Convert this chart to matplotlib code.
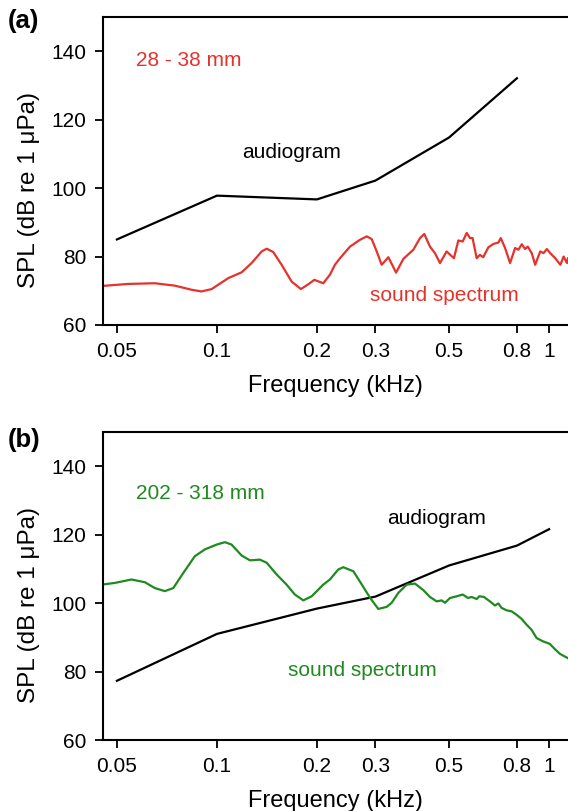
import numpy as np
import matplotlib
matplotlib.use("Agg")
import matplotlib.pyplot as plt

plt.rcParams["font.family"] = ["Liberation Sans", "DejaVu Sans"]

# Audiogram thresholds (kHz, dB re 1 uPa)
aud_a_freq = [0.05, 0.1, 0.2, 0.3, 0.5, 0.8]
aud_a_spl = [85.0, 97.8, 96.7, 102.2, 114.8, 132.1]

aud_b_freq = [0.05, 0.1, 0.2, 0.3, 0.5, 0.8, 1.0]
aud_b_spl = [77.3, 91.0, 98.4, 101.9, 111.0, 116.8, 121.6]

# Sound spectrum, 28 - 38 mm fish
spec_a_freq = [0.0450, 0.0540, 0.0650, 0.0747, 0.0839, 0.0899, 0.0964, 0.1082, 0.1187, 0.1272,
               0.1364, 0.1412, 0.1478, 0.1566, 0.1678, 0.1790, 0.1884, 0.1965, 0.2090, 0.2189,
               0.2266, 0.2347, 0.2515, 0.2696, 0.2826, 0.2924, 0.3027, 0.3133, 0.3282, 0.3462,
               0.3640, 0.3902, 0.4087, 0.4210, 0.4379, 0.4533, 0.4694, 0.4914, 0.5170, 0.5330,
               0.5494, 0.5649, 0.5780, 0.5884, 0.6053, 0.6190, 0.6333, 0.6564, 0.6799, 0.7037,
               0.7153, 0.7370, 0.7631, 0.7900, 0.8084, 0.8275, 0.8466, 0.8625, 0.8867, 0.9079,
               0.9402, 0.9622, 0.9847, 1.0077, 1.0438, 1.0810, 1.1063, 1.1320, 1.1400]
spec_a_spl = [71.4, 72.0, 72.2, 71.5, 70.3, 69.8, 70.5, 73.7, 75.4, 78.1,
              81.5, 82.3, 81.3, 77.6, 72.7, 70.5, 71.9, 73.2, 72.2, 74.7,
              77.6, 79.5, 82.9, 84.9, 85.9, 85.1, 81.5, 77.6, 79.8, 75.3,
              79.3, 82.0, 85.4, 86.6, 82.9, 81.0, 78.1, 81.5, 79.5, 84.7,
              84.4, 86.9, 85.4, 85.4, 79.5, 80.5, 79.8, 82.7, 83.7, 84.1,
              85.4, 82.5, 78.1, 82.5, 82.0, 83.6, 82.2, 82.9, 81.0, 77.6,
              81.5, 81.0, 82.2, 81.0, 79.5, 77.6, 80.0, 78.1, 79.5]

# Sound spectrum, 202 - 318 mm fish
spec_b_freq = [0.0450, 0.0493, 0.0553, 0.0607, 0.0650, 0.0697, 0.0739, 0.0792, 0.0858, 0.0920,
               0.0998, 0.1057, 0.1107, 0.1187, 0.1257, 0.1347, 0.1412, 0.1512, 0.1621, 0.1717,
               0.1820, 0.1929, 0.2090, 0.2189, 0.2318, 0.2400, 0.2575, 0.2731, 0.2893, 0.3060,
               0.3243, 0.3358, 0.3517, 0.3727, 0.3947, 0.4181, 0.4379, 0.4587, 0.4749, 0.4860,
               0.5032, 0.5272, 0.5494, 0.5701, 0.5843, 0.6053, 0.6164, 0.6363, 0.6637, 0.6871,
               0.7034, 0.7194, 0.7445, 0.7709, 0.7980, 0.8262, 0.8554, 0.8856, 0.9169, 0.9596,
               1.0046, 1.0400, 1.0770, 1.1150, 1.1400]
spec_b_spl = [105.4, 105.9, 106.9, 106.1, 104.4, 103.5, 104.4, 108.8, 113.7, 115.7,
              117.1, 117.8, 117.1, 113.9, 112.5, 112.7, 111.8, 108.4, 105.4, 102.5,
              100.8, 102.0, 105.4, 106.9, 109.8, 110.5, 109.3, 105.4, 101.5, 98.3,
              98.9, 100.1, 103.0, 105.4, 105.7, 103.8, 101.8, 100.5, 100.8, 100.1,
              101.5, 102.0, 102.5, 101.5, 101.8, 101.2, 102.0, 101.8, 100.5, 99.3,
              99.9, 98.6, 97.9, 97.6, 96.6, 95.4, 93.7, 92.2, 89.8, 88.8,
              88.1, 86.6, 85.2, 84.4, 83.9]

xticks = [0.05, 0.1, 0.2, 0.3, 0.5, 0.8, 1]
xticklabels = ["0.05", "0.1", "0.2", "0.3", "0.5", "0.8", "1"]
yticks = [60, 80, 100, 120, 140]

RED = "#e5322b"
GREEN = "#1f8a1f"

fig = plt.figure(figsize=(5.68, 8.11), dpi=100)
W, H = 568, 811


def make_axes(top_px, bottom_px):
    left = 103 / W
    return fig.add_axes([left, 1 - bottom_px / H, 1 - left, (bottom_px - top_px) / H])


def style(ax):
    ax.set_xscale("log")
    ax.set_xlim(0.0454, 1.14)
    ax.set_ylim(60, 150)
    ax.set_xticks(xticks)
    ax.set_xticklabels(xticklabels)
    ax.xaxis.set_minor_locator(matplotlib.ticker.NullLocator())
    ax.set_yticks(yticks)
    ax.spines["right"].set_visible(False)
    for s in ("left", "bottom", "top"):
        ax.spines[s].set_linewidth(1.5)
    ax.tick_params(direction="out", length=6, width=1.3, labelsize=15, pad=6)
    ax.set_xlabel("Frequency (kHz)", fontsize=17, labelpad=10)
    ax.set_ylabel("SPL (dB re 1 \u03bcPa)", fontsize=17.5)
    ax.yaxis.set_label_coords(-0.135, 0.437)


ax_a = make_axes(17, 325)
style(ax_a)
ax_a.plot(aud_a_freq, aud_a_spl, color="black", lw=1.6)
ax_a.plot(spec_a_freq, spec_a_spl, color=RED, lw=1.6)
ax_a.text(0.057, 137.4, "28 - 38 mm", color=RED, fontsize=15, va="center")
ax_a.text(0.119, 110.4, "audiogram", color="black", fontsize=15, va="center")
ax_a.text(0.289, 68.5, "sound spectrum", color=RED, fontsize=15, va="center")

ax_b = make_axes(432, 740)
style(ax_b)
ax_b.plot(aud_b_freq, aud_b_spl, color="black", lw=1.6)
ax_b.plot(spec_b_freq, spec_b_spl, color=GREEN, lw=1.6)
ax_b.text(0.057, 132.1, "202 - 318 mm", color=GREEN, fontsize=15, va="center")
ax_b.text(0.325, 124.8, "audiogram", color="black", fontsize=15, va="center")
ax_b.text(0.1637, 80.4, "sound spectrum", color=GREEN, fontsize=15, va="center")

fig.text(8 / W, 1 - 21 / H, "(a)", fontsize=18.5, fontweight="bold", va="center")
fig.text(8 / W, 1 - 440 / H, "(b)", fontsize=18.5, fontweight="bold", va="center")

fig.savefig("out.png", dpi=100)
